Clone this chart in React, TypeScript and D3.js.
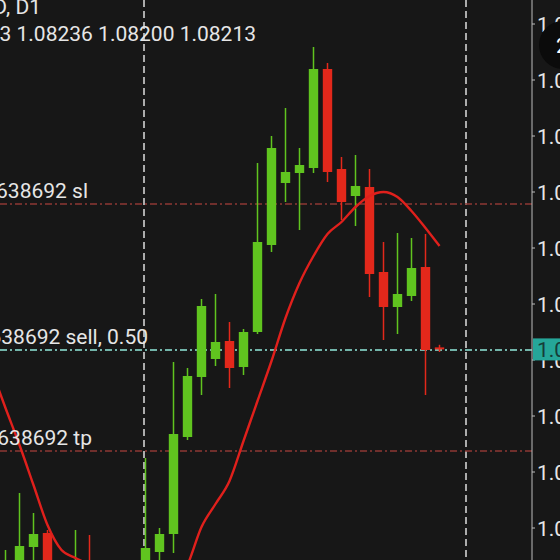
import React from 'react';
import * as d3 from 'd3';

const symbolLabel = 'EURUSD, D1';
const ohlcLabel = '1.08223 1.08236 1.08200 1.08213';

const opens = [1.0721, 1.0706, 1.07085, 1.07225, 1.07295, 1.07085, 1.0701, 1.07085, 1.0696, 1.0686, 1.0696,
  1.07085, 1.072, 1.0729, 1.07775, 1.08075, 1.08165, 1.08255, 1.08125, 1.083, 1.08735,
  1.09045, 1.09095, 1.0912, 1.09615, 1.09115, 1.0898, 1.09025, 1.086, 1.08425, 1.0848,
  1.08625, 1.08223];
const highs = [1.0735, 1.0721, 1.07495, 1.07395, 1.0731, 1.07135, 1.0731, 1.07285, 1.07085, 1.0701, 1.07085,
  1.0767, 1.0732, 1.0815, 1.0812, 1.08465, 1.0849, 1.0835, 1.08315, 1.09145, 1.0928,
  1.0942, 1.0922, 1.09725, 1.09645, 1.09175, 1.09185, 1.09115, 1.0875, 1.08795, 1.0877,
  1.0879, 1.08236];
const lows = [1.0701, 1.0701, 1.07035, 1.07135, 1.0701, 1.0691, 1.0691, 1.06885, 1.0681, 1.0681, 1.0691,
  1.07035, 1.07135, 1.07195, 1.0776, 1.07985, 1.0813, 1.0802, 1.08085, 1.0829, 1.087,
  1.0895, 1.0881, 1.09095, 1.0905, 1.0886, 1.0883, 1.08475, 1.0826, 1.0829, 1.08455,
  1.07985, 1.082];
const closes = [1.0706, 1.07135, 1.0723, 1.0729, 1.0706, 1.0696, 1.0711, 1.0696, 1.0686, 1.0696, 1.07035,
  1.0722, 1.0729, 1.0779, 1.0808, 1.0843, 1.0825, 1.0812, 1.083, 1.0875, 1.0922,
  1.091, 1.09135, 1.09615, 1.091, 1.0895, 1.0903, 1.0859, 1.08425, 1.0849, 1.0862,
  1.0821, 1.08213];
const maValues = [1.0811, 1.0792, 1.07735, 1.07535, 1.07335, 1.0721, 1.0717, 1.07135, 1.07085, 1.07035, 1.0701,
  1.06985, 1.0697, 1.0701, 1.07135, 1.07325, 1.0744, 1.07555, 1.07755, 1.07955, 1.08155,
  1.0837, 1.08545, 1.0868, 1.0879, 1.0885, 1.08925, 1.0898, 1.09, 1.08975, 1.08905,
  1.0882, 1.0873];

const yTicks = [1.0732, 1.076, 1.0788, 1.0816, 1.0844, 1.0872, 1.09, 1.0928, 1.0956, 1.0984];
const separatorBars = [11, 34];

const slPrice = 1.0894;
const sellPrice = 1.0821;
const tpPrice = 1.07705;
const slLabel = '#503638692 sl';
const sellLabel = '#503638692 sell, 0.50';
const tpLabel = '#503638692 tp';
const currentPrice = 1.08213;

export default function App() {
  const W = 560, H = 560, axisX = 532;
  const font = 'Roboto, sans-serif';
  const bg = '#171717';
  const green = '#60c41f';
  const red = '#e3281b';
  const x = d3.scaleLinear().domain([0, 32]).range([-8.5, 439.5]);
  const y = d3.scaleLinear().domain([1.0732, 1.0984]).range([528, 24]);
  const maPath = d3.line<number>().x((_, i) => x(i)).y(d => y(d)).curve(d3.curveMonotoneX)(maValues) || '';
  const bodyW = 9.4;

  return (
    <svg width={W} height={H} style={{ position: 'fixed', left: 0, top: 0, display: 'block' }}>
      <defs>
        <clipPath id="plot"><rect x={0} y={0} width={axisX} height={H} /></clipPath>
      </defs>
      <rect x={0} y={0} width={W} height={H} fill={bg} />
      <g clipPath="url(#plot)">
        {separatorBars.map(i => (
          <line key={i} x1={x(i) - 1.5} x2={x(i) - 1.5} y1={0} y2={H} stroke="#d2d2d2" strokeWidth={1.6} strokeDasharray="7,4" />
        ))}
        <line x1={0} x2={axisX} y1={y(slPrice)} y2={y(slPrice)} stroke="#8e3834" strokeWidth={1.6} strokeDasharray="7,3,2,3" />
        <line x1={0} x2={axisX} y1={y(tpPrice)} y2={y(tpPrice)} stroke="#8e3834" strokeWidth={1.6} strokeDasharray="7,3,2,3" />
        <line x1={0} x2={axisX} y1={y(sellPrice)} y2={y(sellPrice)} stroke="#72b4aa" strokeWidth={1.8} strokeDasharray="7,3,2,3" />
        {opens.map((o, i) => {
          const c = closes[i];
          const col = c > o ? green : red;
          const top = y(Math.max(o, c));
          const bot = y(Math.min(o, c));
          return (
            <g key={i}>
              <line x1={x(i)} x2={x(i)} y1={y(highs[i])} y2={y(lows[i])} stroke={col} strokeWidth={1.5} />
              <rect x={x(i) - bodyW / 2} y={top} width={bodyW} height={Math.max(1.5, bot - top)} fill={col} />
            </g>
          );
        })}
        <path d={maPath} fill="none" stroke="#e0201c" strokeWidth={2.4} />
        <text x={88} y={y(slPrice) - 6} textAnchor="end" fill="#e6e6e6" fontFamily={font} fontSize={21}>{slLabel}</text>
        <text x={148} y={y(sellPrice) - 6} textAnchor="end" fill="#e6e6e6" fontFamily={font} fontSize={21}>{sellLabel}</text>
        <text x={92} y={y(tpPrice) - 6} textAnchor="end" fill="#e6e6e6" fontFamily={font} fontSize={21}>{tpLabel}</text>
      </g>
      <text x={41} y={14} textAnchor="end" fill="#e6e6e6" fontFamily={font} fontSize={21}>{symbolLabel}</text>
      <text x={256} y={41} textAnchor="end" fill="#e6e6e6" fontFamily={font} fontSize={21}>{ohlcLabel}</text>
      <line x1={axisX} x2={axisX} y1={0} y2={H} stroke="#bdbdbd" strokeWidth={1} />
      {yTicks.map(t => (
        <g key={t}>
          <line x1={axisX} x2={axisX + 3} y1={y(t)} y2={y(t)} stroke="#bdbdbd" strokeWidth={1} />
          <text x={537} y={y(t) + 8} fill="#e6e6e6" fontFamily={font} fontSize={21}>{t.toFixed(5)}</text>
        </g>
      ))}
      <rect x={533} y={y(currentPrice) - 11} width={40} height={22} fill="#25a699" />
      <text x={537} y={y(currentPrice) + 7.5} fill="#163c38" fontFamily={font} fontSize={21}>{currentPrice.toFixed(5)}</text>
      <circle cx={563} cy={45} r={24} fill="#0b0b0b" />
      <text x={556} y={53} fill="#ffffff" fontFamily={font} fontSize={21}>2</text>
    </svg>
  );
}
